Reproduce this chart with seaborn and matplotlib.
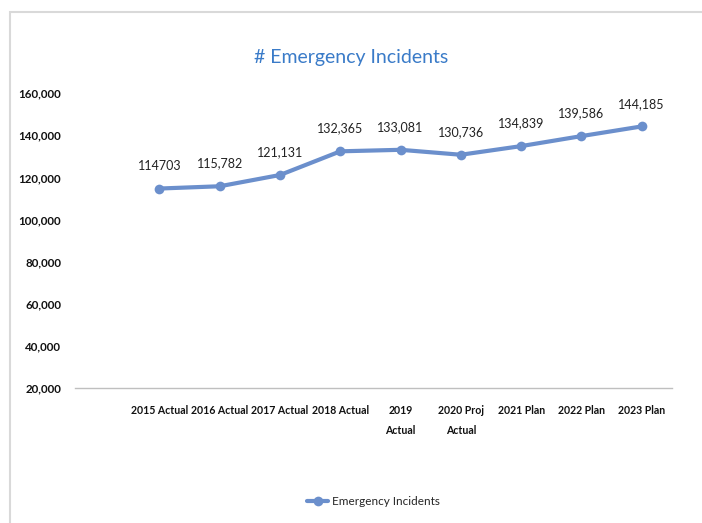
import matplotlib
matplotlib.use("Agg")
import matplotlib.pyplot as plt
import seaborn as sns
import pandas as pd
from matplotlib.patches import Rectangle
from matplotlib.ticker import FuncFormatter

# data
categories = ["2015 Actual", "2016 Actual", "2017 Actual", "2018 Actual", "2019\nActual",
              "2020 Proj\nActual", "2021 Plan", "2022 Plan", "2023 Plan"]
incidents = [114703, 115782, 121131, 132365, 133081, 130736, 134839, 139586, 144185]
point_labels = ["114703", "115,782", "121,131", "132,365", "133,081",
                "130,736", "134,839", "139,586", "144,185"]
y_ticks = [20000, 40000, 60000, 80000, 100000, 120000, 140000, 160000]

sns.set_theme(style="white")
plt.rcParams['font.family'] = ['Lato', 'DejaVu Sans']

df = pd.DataFrame({"pos": range(len(categories)), "value": incidents})

fig = plt.figure(figsize=(7.02, 5.23), dpi=100)
ax = fig.add_axes([0.107, 0.258, 0.85, 0.564])

line_color = "#6B8FCC"
sns.lineplot(data=df, x="pos", y="value", ax=ax, color=line_color, linewidth=3,
             marker="o", markersize=7, markeredgewidth=0, label="Emergency Incidents")

for i, (v, lab) in enumerate(zip(incidents, point_labels)):
    ax.annotate(lab, (i, v), xytext=(0, 12), textcoords="offset points",
                ha="center", va="bottom", fontsize=9, color="#222222")

ax.set_xlim(-1.4, 8.5)
ax.set_ylim(20000, 160000)
ax.set_yticks(y_ticks)
ax.yaxis.set_major_formatter(FuncFormatter(lambda v, p: f"{int(v):,}"))
ax.set_xticks(range(len(categories)))
ax.set_xticklabels(categories, linespacing=2.0)
ax.tick_params(axis="x", length=0, labelsize=7.6, colors="#111111", pad=12)
ax.tick_params(axis="y", length=0, labelsize=8.3, colors="#111111", pad=10)
for t in ax.get_xticklabels() + ax.get_yticklabels():
    t.set_fontweight("bold")
ax.set_xlabel("")
ax.set_ylabel("")
for s in ["top", "right", "left"]:
    ax.spines[s].set_visible(False)
ax.spines["bottom"].set_color("#BFBFBF")
ax.spines["bottom"].set_linewidth(1)

fig.text(0.5, 0.89, "# Emergency Incidents", ha="center", va="center",
         fontsize=14, color="#3A7BC8")

leg = ax.legend(loc="center", bbox_to_anchor=(0.5, -0.385), frameon=False,
                fontsize=8.5, handlelength=1.8, handletextpad=0.3)

# chart border
fig.patches.append(Rectangle((10 / 702, -0.1), 1.2, 1 - 12 / 523 + 0.1,
                             transform=fig.transFigure, fill=False,
                             edgecolor="#D9D9D9", linewidth=1.5))

fig.savefig("out.png", dpi=100)
